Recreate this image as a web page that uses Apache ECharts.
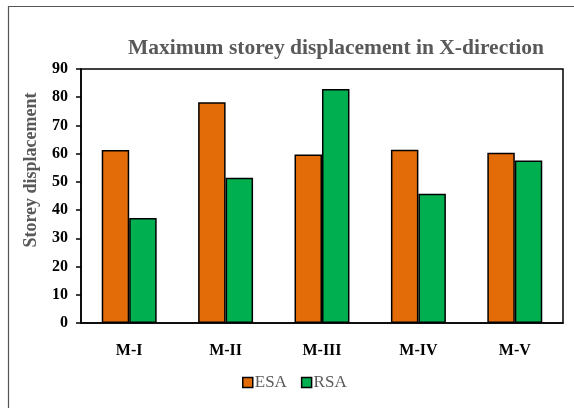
<!DOCTYPE html>
<html><head><meta charset="utf-8">
<script src="https://cdn.jsdelivr.net/npm/echarts@6/dist/echarts.min.js"></script>
<style>html,body{margin:0;padding:0;background:#fff}#c{width:574px;height:408px}</style>
</head><body><div id="c"></div>
<script>
const categories = ['M-I', 'M-II', 'M-III', 'M-IV', 'M-V'];
const esaValues = [61.3, 78.2, 59.7, 61.4, 60.3];
const rsaValues = [37.2, 51.5, 82.9, 45.8, 57.6];
const yTicks = [0, 10, 20, 30, 40, 50, 60, 70, 80, 90];

const font = '"Liberation Serif", "Times New Roman", serif';
const chart = echarts.init(document.getElementById('c'), null, {renderer: 'canvas'});
chart.setOption({
  animation: false,
  backgroundColor: '#fff',
  graphic: [{
    type: 'rect', left: 6, top: 4,
    shape: {width: 600, height: 450},
    style: {fill: 'none', stroke: '#555', lineWidth: 1.2}, silent: true
  }],
  title: {
    text: 'Maximum storey displacement in X-direction',
    left: 331, top: 32, textAlign: 'center',
    textStyle: {fontFamily: font, fontSize: 21.5, fontWeight: 'bold', color: '#595959'}
  },
  legend: {
    data: ['ESA', 'RSA'], left: 242, top: 374, padding: 0,
    itemWidth: 10, itemHeight: 10, itemGap: 14, icon: 'rect',
    itemStyle: {borderColor: '#000', borderWidth: 1.5},
    textStyle: {fontFamily: font, fontSize: 17, color: '#595959', padding: [0,0,0,-3]}
  },
  grid: {left: 81, right: 11, top: 69, bottom: 85, show: true, borderColor: '#000', borderWidth: 1.5, containLabel: false},
  xAxis: {
    type: 'category', data: categories,
    axisLine: {lineStyle: {color: '#000', width: 1.5}},
    axisTick: {show: false},
    axisLabel: {fontFamily: font, fontSize: 16, fontWeight: 'bold', color: '#000', margin: 20}
  },
  yAxis: {
    type: 'value', min: 0, max: 90, interval: 10,
    name: 'Storey displacement', nameLocation: 'middle', nameGap: 41, nameRotate: 90,
    nameTextStyle: {fontFamily: font, fontSize: 18, fontWeight: 'bold', color: '#595959', padding: [0,0,0,52]},
    axisLine: {show: true, lineStyle: {color: '#000', width: 1.5}},
    axisTick: {show: true, length: 5, lineStyle: {color: '#000', width: 1.5}},
    splitLine: {show: false},
    axisLabel: {fontFamily: font, fontSize: 16, fontWeight: 'bold', color: '#000', margin: 13,
      formatter: v => yTicks.includes(v) ? String(v) : ''}
  },
  series: [
    {name: 'ESA', type: 'bar', data: esaValues, barGap: '0%', barCategoryGap: '43%',
     itemStyle: {color: '#E36C09', borderColor: '#000', borderWidth: 1.5}},
    {name: 'RSA', type: 'bar', data: rsaValues,
     itemStyle: {color: '#00B050', borderColor: '#000', borderWidth: 1.5}}
  ]
});
</script></body></html>
